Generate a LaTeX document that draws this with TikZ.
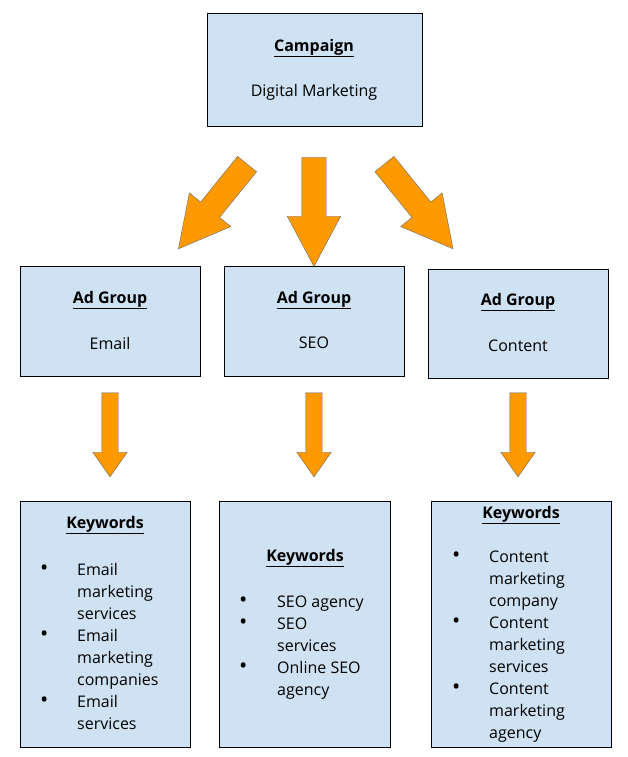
\documentclass[tikz,border=0pt]{standalone}
\usepackage{fontspec}
\setmainfont{Open Sans}
\usetikzlibrary{shapes.arrows}
\definecolor{boxblue}{HTML}{CFE2F3}
\definecolor{arroworange}{HTML}{FF9900}
\tikzset{
    % boxes
    box/.style={
           rectangle,
           draw=black, thin,
           fill=boxblue,
           anchor=north west,
           inner sep=0pt},
    % text inside boxes
    boxtext/.style={
           font=\fontsize{16}{22}\selectfont,
           inner sep=0pt},
    % big block arrows
    bigarrow/.style={
           single arrow,
           draw=black!60, thin,
           fill=arroworange,
           minimum height=109pt,
           minimum width=53pt,
           text height=12pt, text depth=12pt,
           inner sep=0pt,
           single arrow head extend=14.5pt,
           single arrow tip angle=56},
    smallarrow/.style={
           single arrow,
           draw=black!60, thin,
           fill=arroworange,
           minimum height=84pt,
           minimum width=34pt,
           text height=8pt, text depth=8pt,
           inner sep=0pt,
           single arrow head extend=9pt,
           single arrow tip angle=70}
}
\newcommand{\kwtitle}{\textbf{\underline{Keywords}}}
\newcommand{\adtitle}{\textbf{\underline{Ad Group}}}
\newcommand{\bul}{{\fontsize{22}{22}\selectfont\textbullet}}

\begin{document}
\begin{tikzpicture}[x=1pt,y=-1pt]
\useasboundingbox (0,0) rectangle (627,757);
% boxes
\node[box, minimum width=215pt, minimum height=113pt] (camp) at (207,13) {};
\node[box, minimum width=180pt, minimum height=110pt] (adEmail) at (20,266) {};
\node[box, minimum width=180pt, minimum height=110pt] (adSEO) at (224,266) {};
\node[box, minimum width=180pt, minimum height=109pt] (adContent) at (428,269) {};
\node[box, minimum width=170pt, minimum height=246pt] (kwEmail) at (20,501) {};
\node[box, minimum width=171pt, minimum height=246pt] (kwSEO) at (219,501) {};
\node[box, minimum width=180pt, minimum height=246pt] (kwContent) at (431,501) {};

% titles
\node[boxtext] (campT) at (314,48) {\textbf{\underline{Campaign}}};
\node[boxtext] (campN) at (314,92) {Digital Marketing};
\node[boxtext] (emailT) at (110,300) {\adtitle};
\node[boxtext] (emailN) at (110,343) {Email};
\node[boxtext] (seoT) at (314,300) {\adtitle};
\node[boxtext] (seoN) at (314,343) {SEO};
\node[boxtext] (contT) at (518,302) {\adtitle};
\node[boxtext] (contN) at (518,346) {Content};
\node[boxtext] (kwEmailT) at (105,525) {\kwtitle};
\node[boxtext] (kwSEOT) at (305,558) {\kwtitle};
\node[boxtext] (kwContT) at (521,515) {\kwtitle};

% keyword lists
\node[boxtext, anchor=north west] (listEmail) at (40,560) {%
  \begin{tabular}{@{}p{37pt}@{}l@{}}
  \bul & Email\\ & marketing\\ & services\\
  \bul & Email\\ & marketing\\ & companies\\
  \bul & Email\\ & services
  \end{tabular}};
\node[boxtext, anchor=north west] (listSEO) at (239,592) {%
  \begin{tabular}{@{}p{38pt}@{}l@{}}
  \bul & SEO agency\\
  \bul & SEO\\ & services\\
  \bul & Online SEO\\ & agency
  \end{tabular}};
\node[boxtext, anchor=north west] (listContent) at (452,547) {%
  \begin{tabular}{@{}p{37pt}@{}l@{}}
  \bul & Content\\ & marketing\\ & company\\
  \bul & Content\\ & marketing\\ & services\\
  \bul & Content\\ & marketing\\ & agency
  \end{tabular}};

% arrows
\node[bigarrow, rotate=-90] (arrC) at (314,200.5) {};
\node[bigarrow, rotate=-129] (arrL) at (220,197.5) {};
\node[bigarrow, rotate=-51] (arrR) at (411.5,197.5) {};
\node[smallarrow, rotate=-90] (arrE) at (110,429) {};
\node[smallarrow, rotate=-90] (arrS) at (314,429) {};
\node[smallarrow, rotate=-90] (arrK) at (518,429) {};
\end{tikzpicture}
\end{document}
